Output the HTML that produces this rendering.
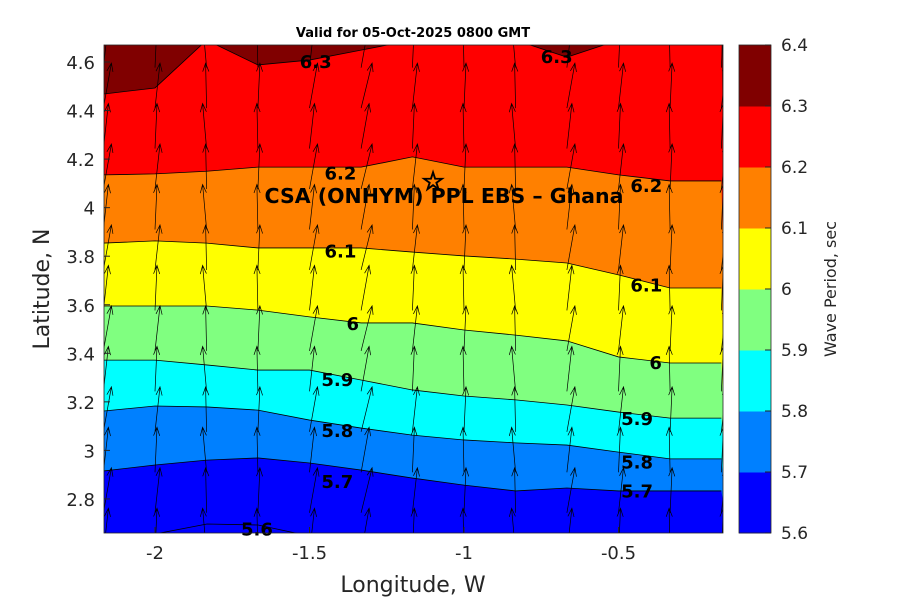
<!DOCTYPE html>
<html><head><meta charset="utf-8"><style>
body{margin:0;background:#fff;font-family:"DejaVu Sans","Liberation Sans",sans-serif}
text{font-family:"DejaVu Sans","Liberation Sans",sans-serif}
</style></head><body>
<svg id="chart" width="900" height="600" viewBox="0 0 900 600" xmlns="http://www.w3.org/2000/svg">
<defs><clipPath id="pc"><rect x="104" y="45" width="619" height="488"/></clipPath></defs>
<text x="413" y="37" font-size="13" font-weight="bold" text-anchor="middle">Valid for 05-Oct-2025 0800 GMT</text>
<g id="plot" clip-path="url(#pc)"></g>
<g id="labels"></g>
<g id="axes"></g>
<g id="cbar"></g>
<text x="413" y="592" font-size="22" fill="#262626" text-anchor="middle">Longitude, W</text>
<text transform="translate(49,289) rotate(-90)" font-size="22" fill="#262626" text-anchor="middle">Latitude, N</text>
<text transform="translate(836,289) rotate(-90)" font-size="16" fill="#262626" text-anchor="middle">Wave Period, sec</text>
</svg>
<script>
const lons=[-2.167,-2.0,-1.833,-1.667,-1.5,-1.333,-1.167,-1.0,-0.833,-0.667,-0.5,-0.333,-0.167];
const levels=[6.3,6.2,6.1,6.0,5.9,5.8,5.7];
const c63=[4.468,4.493,4.690,4.588,4.608,4.649,4.690,4.690,4.690,4.620,4.690,4.690,4.690];
const c62=[4.135,4.139,4.150,4.167,4.167,4.167,4.209,4.167,4.167,4.167,4.135,4.110,4.110];
const c61=[3.854,3.863,3.854,3.834,3.834,3.834,3.817,3.801,3.788,3.772,3.723,3.669,3.669];
const c60=[3.595,3.595,3.595,3.578,3.550,3.525,3.525,3.496,3.475,3.451,3.385,3.360,3.360];
const c59=[3.372,3.372,3.352,3.331,3.331,3.290,3.249,3.224,3.208,3.187,3.158,3.133,3.133];
const c58=[3.162,3.183,3.179,3.166,3.125,3.092,3.063,3.043,3.031,3.022,2.993,2.965,2.965];
const c57=[2.915,2.940,2.960,2.969,2.948,2.919,2.886,2.857,2.833,2.845,2.833,2.833,2.833];
const contours=[c63,c62,c61,c60,c59,c58,c57];
const bandColors=["#800000","#ff0000","#ff8000","#ffff00","#80ff80","#00ffff","#0080ff","#0000ff"];
const cbTicks=[5.6,5.7,5.8,5.9,6.0,6.1,6.2,6.3,6.4];
const xTicks=[-2,-1.5,-1,-0.5];
const yTicks=[2.8,3.0,3.2,3.4,3.6,3.8,4.0,4.2,4.4,4.6];
const labels=[["6.3",-1.48,4.60],["6.3",-0.70,4.62],["6.2",-1.40,4.14],["6.2",-0.41,4.09],["6.1",-1.40,3.82],["6.1",-0.41,3.68],["6",-1.36,3.52],["6",-0.38,3.36],["5.9",-1.41,3.29],["5.9",-0.44,3.13],["5.8",-1.41,3.08],["5.8",-0.44,2.95],["5.7",-1.41,2.87],["5.7",-0.44,2.83],["5.6",-1.67,2.675]];
const windU=[0.02,0.01,-0.01,0.0,0.02,0.03,0.01,0.0,-0.01,0.02,0.01,0.0,0.01];
const xs=v=>155+(v+2)*309;
const ys=v=>62+(4.6-v)*242.75;
const ns="http://www.w3.org/2000/svg";
function mk(tag,attrs,parent){const e=document.createElementNS(ns,tag);for(const k in attrs)e.setAttribute(k,attrs[k]);parent.appendChild(e);return e;}
const plot=document.getElementById('plot');
let bg=mk('rect',{x:104,y:45,width:619,height:488,fill:bandColors[0]},plot);


contours.forEach((c,i)=>{
  let pts=c.map((v,j)=>xs(lons[j])+','+ys(v)).join(' ');
  let poly=mk('polygon',{points:pts+' 730,545 95,545',fill:bandColors[i+1]},plot);
  
  
  let ln=mk('polyline',{points:pts,fill:'none',stroke:'#000','stroke-width':0.8},plot);
  
  
});
let l56=mk('polyline',{points:'155,534 207,524 258,525 300,534',fill:'none',stroke:'#000','stroke-width':0.8},plot);


for(let j=0;j<lons.length;j++){
  for(let r=0;r<13;r++){
    const lat=2.667+r*0.1667;
    const x0=xs(lons[j]),y0=ys(lat)+22;
    const dx=windU[j]*300+(r%2?2:-1),dy=-45;
    const x1=x0+dx,y1=y0+dy;
    const a=Math.atan2(dy,dx);
    const h=9;
    const p1=[x1-h*Math.cos(a-0.35),y1-h*Math.sin(a-0.35)],p2=[x1-h*Math.cos(a+0.35),y1-h*Math.sin(a+0.35)];
    let ar=mk('path',{d:`M${x0},${y0}L${x1},${y1}M${p1}L${x1},${y1}L${p2}`,fill:'none',stroke:'#000','stroke-width':0.7},plot);
    
    
  }
}
const lg=document.getElementById('labels');
labels.forEach(l=>{
  let t=mk('text',{x:xs(l[1]),y:ys(l[2])+6,'font-size':18,'font-weight':'bold','text-anchor':'middle'},lg);
  t.textContent=l[0];
  
  
});
let st=mk('text',{x:433,y:190,'font-size':26,'text-anchor':'middle',fill:'#fff',stroke:'#000','stroke-width':1.2},lg);
st.textContent='☆';


let an=mk('text',{x:444,y:203,'font-size':20.5,'font-weight':'bold','text-anchor':'middle'},lg);
an.textContent='CSA (ONHYM) PPL EBS  – Ghana';


const axes=document.getElementById('axes');
let fr=mk('rect',{x:104,y:45,width:619,height:488,fill:'none',stroke:'#262626','stroke-width':0.8},axes);


xTicks.forEach(v=>{
  mk('line',{x1:xs(v),x2:xs(v),y1:533,y2:527,stroke:'#262626'},axes);
  let t=mk('text',{x:xs(v),y:559,'font-size':18,fill:'#262626','text-anchor':'middle'},axes);
  t.textContent=String(v);
  
  
});
yTicks.forEach(v=>{
  mk('line',{x1:104,x2:110,y1:ys(v),y2:ys(v),stroke:'#262626'},axes);
  let t=mk('text',{x:95,y:ys(v)+7,'font-size':18,fill:'#262626','text-anchor':'end'},axes);
  t.textContent=(Math.abs(v-4)<1e-9||Math.abs(v-3)<1e-9)?String(Math.round(v)):v.toFixed(1);
  
  
});
const cb=document.getElementById('cbar');
const cy=v=>533-(v-5.6)/0.8*488;
for(let i=0;i<8;i++){
  const lo=5.6+i*0.1;
  let r=mk('rect',{x:739,y:cy(lo+0.1),width:32,height:61.5,fill:bandColors[7-i]},cb);
  
  
}
mk('rect',{x:739,y:45,width:32,height:488,fill:'none',stroke:'#262626','stroke-width':0.8},cb);
cbTicks.forEach(v=>{
  mk('line',{x1:765,x2:771,y1:cy(v),y2:cy(v),stroke:'#262626'},cb);
  let t=mk('text',{x:781,y:cy(v)+6,'font-size':17,fill:'#262626'},cb);
  t.textContent=(Math.abs(v-6)<1e-9)?'6':v.toFixed(1);
  
  
});
</script>
</body></html>
